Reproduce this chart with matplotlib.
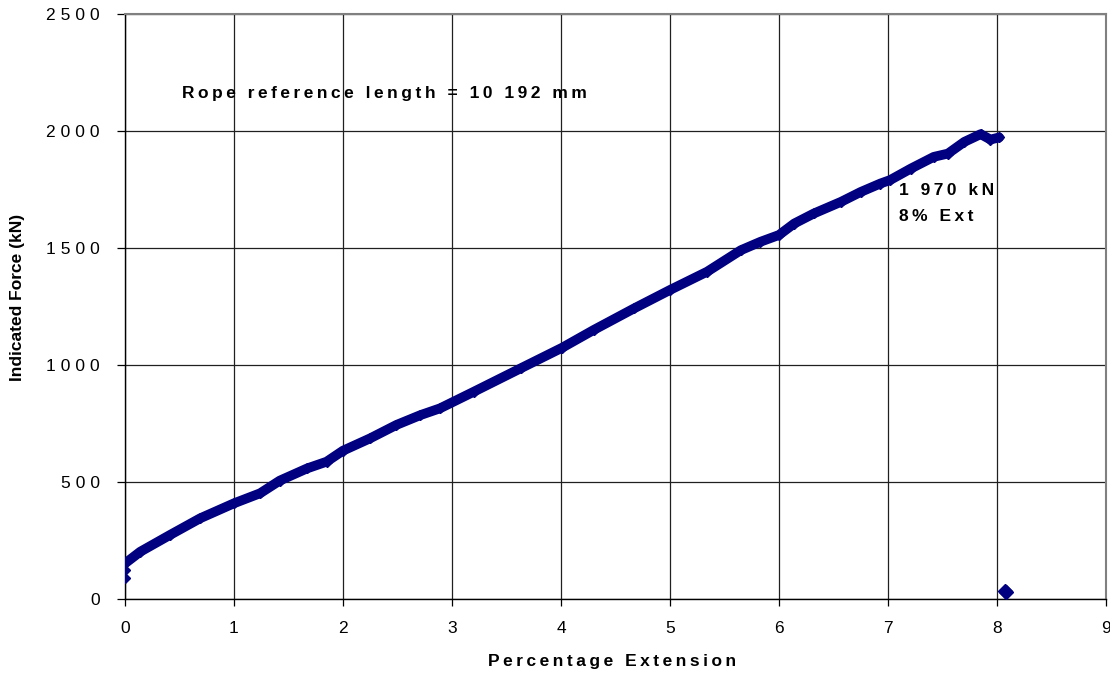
import matplotlib
matplotlib.use("Agg")
import matplotlib.pyplot as plt

# readings taken off the reference curve
ext = [0.0, 0.14, 0.41, 0.69, 1.0, 1.24, 1.42, 1.67, 1.85, 2.0, 2.25, 2.49, 2.71,
       2.89, 3.2, 3.63, 4.01, 4.30, 4.67, 5.0, 5.34, 5.65, 5.83, 6.0, 6.14, 6.32,
       6.57, 6.75, 6.93, 7.02, 7.21, 7.42, 7.55, 7.70, 7.85, 7.94, 8.02]
force = [152, 202, 273, 345, 409, 452, 506, 558, 587, 634, 687, 744, 786,
         815, 886, 986, 1074, 1150, 1242, 1321, 1399, 1491, 1527, 1556, 1605, 1648,
         1698, 1740, 1776, 1791, 1840, 1890, 1904, 1954, 1987, 1964, 1973]
start_x = [0.0, 0.0]
start_y = [90, 124]
end_x = [8.07, 8.08]
end_y = [33, 30]

xticks = list(range(0, 10))
yticks = list(range(0, 2501, 500))

FAM = ['Liberation Sans', 'DejaVu Sans']
NAVY = '#000080'


def spaced(s, sep='\u2009'):
    # fake the wide letter spacing of the original
    return sep.join(s)


fig = plt.figure(figsize=(11.1, 6.74), dpi=100)
ax = fig.add_axes([0.1126, 0.1113, 0.8838, 0.8677])

ax.plot(ext, force, color=NAVY, lw=7, marker='D', ms=5, solid_capstyle='round',
        solid_joinstyle='round', zorder=3)
ax.plot(start_x, start_y, ls='none', color=NAVY, marker='D', ms=5, zorder=3)
ax.plot(end_x, end_y, ls='none', color=NAVY, marker='D', ms=7, zorder=3)

ax.set_xlim(0, 9)
ax.set_ylim(0, 2500)
ax.set_xticks(xticks)
ax.set_yticks(yticks)
ax.grid(True, color='#202020', lw=0.9)
ax.set_axisbelow(True)

for s in ['left', 'bottom']:
    ax.spines[s].set_color('black')
    ax.spines[s].set_linewidth(1.0)
for s in ['top', 'right']:
    ax.spines[s].set_color('#808080')
    ax.spines[s].set_linewidth(1.5)

ax.tick_params(direction='out', width=0.9)
ax.tick_params(axis='y', length=6, pad=12)
ax.tick_params(axis='x', length=5, pad=11)
ax.set_xticklabels([spaced(str(t)) for t in xticks], family=FAM, fontsize=12.5)
ax.set_yticklabels([spaced(str(t), '\u2009\u200a') for t in yticks], family=FAM,
                   fontsize=12.5)

ax.set_xlabel(spaced('Percentage Extension'), family=FAM, fontsize=12.5,
              fontweight='bold', va='center')
ax.xaxis.set_label_coords(0.497, -0.1077)
ax.set_ylabel('Indicated Force (kN)', family=FAM, fontsize=12.5,
              fontweight='bold', va='center')
ax.yaxis.set_label_coords(-0.110, 0.516)

ax.text(0.52, 2162, spaced('Rope reference length = 10 192 mm'), family=FAM,
        fontsize=12.5, fontweight='bold', va='center', ha='left')
ax.text(7.1, 1748, spaced('1 970 kN'), family=FAM, fontsize=12.5,
        fontweight='bold', va='center', ha='left')
ax.text(7.1, 1637, spaced('8% Ext'), family=FAM, fontsize=12.5,
        fontweight='bold', va='center', ha='left')

fig.savefig('out.png', dpi=100)
